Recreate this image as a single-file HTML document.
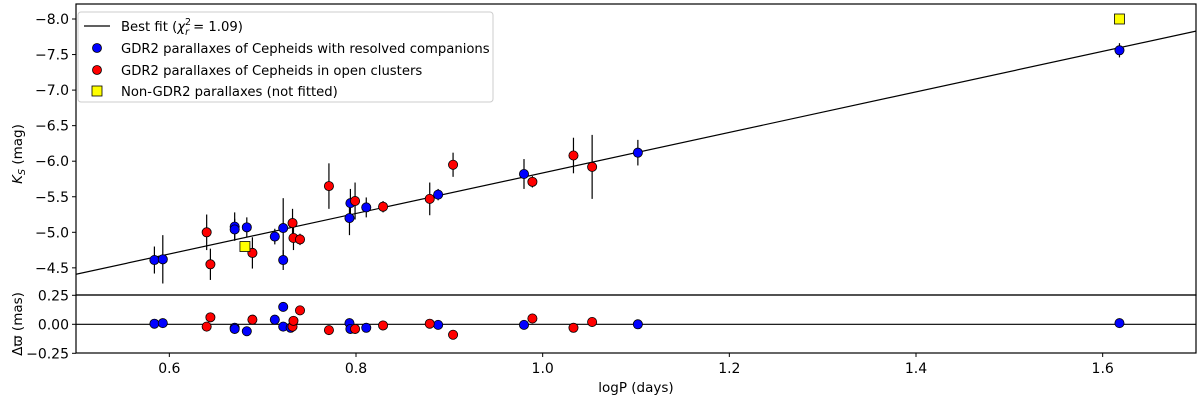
<!DOCTYPE html>
<html><head><meta charset="utf-8"><style>
html,body{margin:0;padding:0;background:#fff;}
svg{display:block;font-family:"DejaVu Sans","Liberation Sans",sans-serif;}
</style></head><body>
<svg id="chart" width="1200" height="401" viewBox="0 0 1200 401" xmlns="http://www.w3.org/2000/svg">
<g id="marks"></g>
<g id="axes"></g>
<g>
<rect x="78" y="12" width="415" height="90" rx="3" fill="#fff" fill-opacity="0.85" stroke="#ccc" stroke-width="1"/>
<line x1="84" y1="26" x2="110" y2="26" stroke="#000" stroke-width="1.2"/>
<text x="121" y="31" font-size="13.2">Best fit (<tspan font-style="italic">χ</tspan><tspan font-size="9.5" dy="-6">2</tspan><tspan font-size="9.5" font-style="italic" dx="-6" dy="10">r</tspan><tspan dy="-4"> = 1.09)</tspan></text>
<circle cx="97" cy="48" r="4.5" fill="#0000ff" stroke="#000" stroke-width="0.8"/>
<text x="121" y="53" font-size="13.2">GDR2 parallaxes of Cepheids with resolved companions</text>
<circle cx="97" cy="70" r="4.5" fill="#ff0000" stroke="#000" stroke-width="0.8"/>
<text x="121" y="75" font-size="13.2">GDR2 parallaxes of Cepheids in open clusters</text>
<rect x="92" y="86" width="10" height="10" fill="#ffff00" stroke="#000" stroke-width="0.8"/>
<text x="121" y="96" font-size="13.2">Non-GDR2 parallaxes (not fitted)</text>
</g>
<text x="636" y="392" font-size="13.5" text-anchor="middle">logP (days)</text>
<text transform="translate(22,154) rotate(-90)" font-size="13.5" text-anchor="middle"><tspan font-style="italic">K</tspan><tspan font-size="9.5" font-style="italic" dy="3">S</tspan><tspan dy="-3"> (mag)</tspan></text>
<text transform="translate(22,324) rotate(-90)" font-size="13.5" text-anchor="middle">Δϖ (mas)</text>
</svg>
<script>
const blueX=[0.584,0.593,0.670,0.670,0.683,0.713,0.722,0.722,0.793,0.794,0.811,0.888,0.980,1.102,1.618];
const blueK=[-4.61,-4.62,-5.08,-5.04,-5.07,-4.94,-5.06,-4.61,-5.20,-5.41,-5.35,-5.53,-5.82,-6.12,-7.56];
const blueErr=[0.19,0.34,0.20,0.15,0.14,0.11,0.42,0.14,0.24,0.20,0.14,0.08,0.21,0.18,0.10];
const redX=[0.640,0.644,0.689,0.732,0.733,0.740,0.771,0.799,0.829,0.879,0.904,0.989,1.033,1.053];
const redK=[-5.00,-4.55,-4.71,-5.13,-4.92,-4.90,-5.65,-5.44,-5.36,-5.47,-5.95,-5.71,-6.08,-5.92];
const redErr=[0.25,0.22,0.22,0.20,0.17,0.08,0.32,0.26,0.08,0.23,0.17,0.08,0.25,0.45];
const yellowX=[0.681,1.618];
const yellowK=[-4.80,-8.00];
const blueResX=[0.584,0.593,0.670,0.670,0.683,0.713,0.722,0.722,0.730,0.793,0.794,0.811,0.888,0.980,1.102,1.618];
const blueRes=[0.005,0.01,-0.03,-0.04,-0.06,0.04,0.15,-0.02,-0.03,0.01,-0.04,-0.03,-0.005,-0.005,0.00,0.01];
const redResX=[0.640,0.644,0.689,0.732,0.733,0.740,0.771,0.799,0.829,0.879,0.904,0.989,1.033,1.053];
const redRes=[-0.02,0.06,0.04,-0.02,0.03,0.12,-0.05,-0.04,-0.01,0.005,-0.09,0.05,-0.03,0.02];
const fitIntercept=-4.41, fitSlope=-2.85, fitX0=0.5;
const xTicks=[0.6,0.8,1.0,1.2,1.4,1.6];
const xTickLabels=["0.6","0.8","1.0","1.2","1.4","1.6"];
const yTicks=[-8.0,-7.5,-7.0,-6.5,-6.0,-5.5,-5.0,-4.5];
const yTickLabels=["−8.0","−7.5","−7.0","−6.5","−6.0","−5.5","−5.0","−4.5"];
const rTicks=[0.25,0.0,-0.25];
const rTickLabels=["0.25","0.00","−0.25"];

const L=76,R=1196,T=4,MB=295,B=353;
const xs=v=>L+(v-0.5)*(R-L)/1.2;
const ys=v=>19+(v+8.0)*71.1;
const rs=v=>324.3-v*116;
const NS="http://www.w3.org/2000/svg";
const marks=document.getElementById('marks'), axes=document.getElementById('axes');
function mk(tag,attrs,parent){const e=document.createElementNS(NS,tag);for(const k in attrs)e.setAttribute(k,attrs[k]);parent.appendChild(e);return e;}

const defs=mk('defs',{},marks);
const cp=mk('clipPath',{id:'mainclip'},defs);mk('rect',{x:L,y:T,width:R-L,height:MB-T},cp);
const gMain=mk('g',{'clip-path':'url(#mainclip)'},marks);

const fit=mk('line',{x1:xs(0.5),y1:ys(fitIntercept),x2:xs(1.7),y2:ys(fitIntercept+fitSlope*(1.7-fitX0)),stroke:'#000','stroke-width':1.2},gMain);


const zl=mk('line',{x1:L,y1:rs(0),x2:R,y2:rs(0),stroke:'#000','stroke-width':1.2},marks);



function series(X,K,E,color,name){
  X.forEach((x,i)=>{
    const eb=mk('line',{x1:xs(x),x2:xs(x),y1:ys(K[i]-E[i]),y2:ys(K[i]+E[i]),stroke:'#000','stroke-width':1.2},gMain);
    
    
  });
  X.forEach((x,i)=>{
    const c=mk('circle',{cx:xs(x),cy:ys(K[i]),r:4.6,fill:color,stroke:'#000','stroke-width':0.8},gMain);
    
    
  });
}
series(blueX,blueK,blueErr,'#0000ff','resolved-companion');
series(redX,redK,redErr,'#ff0000','open-cluster');
yellowX.forEach((x,i)=>{
  const s=mk('rect',{x:xs(x)-5,y:ys(yellowK[i])-5,width:10,height:10,fill:'#ffff00',stroke:'#000','stroke-width':0.8},gMain);
  
  
});
function resid(X,V,color,name){
  X.forEach((x,i)=>{
    const c=mk('circle',{cx:xs(x),cy:rs(V[i]),r:4.6,fill:color,stroke:'#000','stroke-width':0.8},marks);
    
    
  });
}
resid(blueResX,blueRes,'#0000ff','resolved-companion');
resid(redResX,redRes,'#ff0000','open-cluster');

mk('rect',{x:L,y:T,width:R-L,height:MB-T,fill:'none',stroke:'#000','stroke-width':1.2},axes);
mk('rect',{x:L,y:MB,width:R-L,height:B-MB,fill:'none',stroke:'#000','stroke-width':1.2},axes);
xTicks.forEach((v,i)=>{
  mk('line',{x1:xs(v),x2:xs(v),y1:B,y2:B+4,stroke:'#000','stroke-width':1},axes);
  const t=mk('text',{x:xs(v),y:B+20,'font-size':14,'text-anchor':'middle'},axes);
  t.textContent=xTickLabels[i];
  
  
});
yTicks.forEach((v,i)=>{
  mk('line',{x1:L-4,x2:L,y1:ys(v),y2:ys(v),stroke:'#000','stroke-width':1},axes);
  const t=mk('text',{x:L-7,y:ys(v)+5,'font-size':14,'text-anchor':'end'},axes);
  t.textContent=yTickLabels[i];
  
  
});
rTicks.forEach((v,i)=>{
  mk('line',{x1:L-4,x2:L,y1:rs(v),y2:rs(v),stroke:'#000','stroke-width':1},axes);
  const t=mk('text',{x:L-7,y:rs(v)+5,'font-size':14,'text-anchor':'end'},axes);
  t.textContent=rTickLabels[i];
  
  
});
</script>
</body></html>
